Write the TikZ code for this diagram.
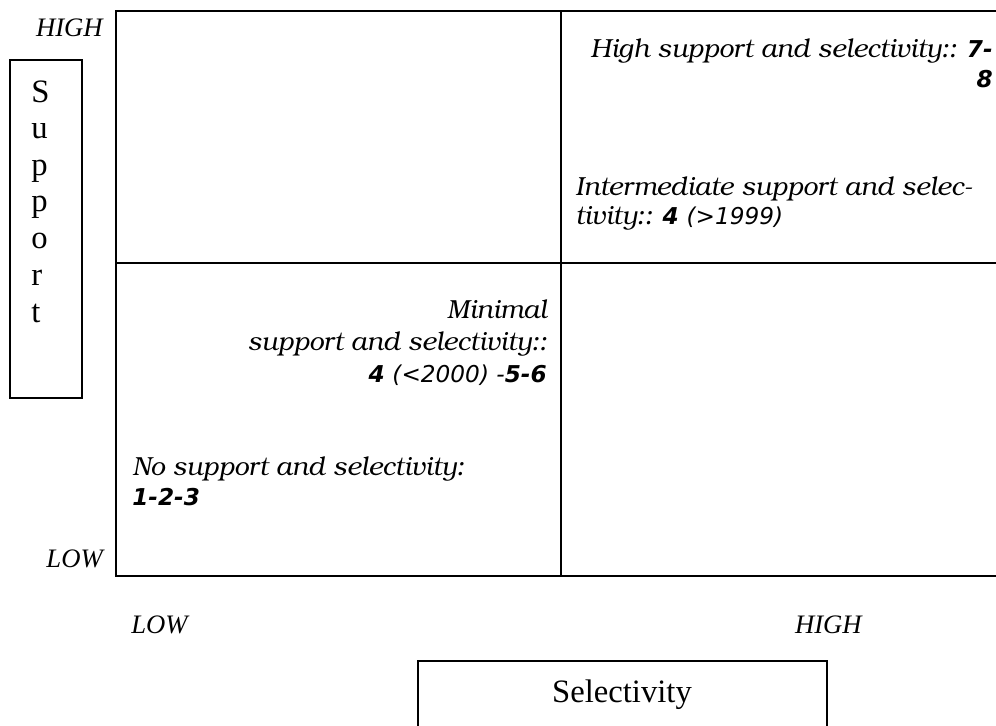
\documentclass[tikz,border=0pt]{standalone}
\usepackage{fontspec}
\setmainfont{Liberation Serif}
\newfontfamily\bkfont{TeX Gyre Bonum}
\newfontfamily\vdfont{DejaVu Sans}
\newcommand{\nbold}[1]{{\vdfont\bfseries\itshape\fontsize{17.4}{21}\selectfont #1}}
\newcommand{\nital}[1]{{\vdfont\itshape\fontsize{17.4}{21}\selectfont #1}}
\tikzset{
  gridline/.style={line width=2pt},
  boxline/.style={line width=1.2pt},
  qt/.style={inner sep=0pt, font=\bkfont\itshape\fontsize{19.6}{23}\selectfont},
  axislbl/.style={inner sep=0pt, font=\itshape\fontsize{20}{24}\selectfont},
  bigl/.style={inner sep=0pt, font=\fontsize{24.5}{28}\selectfont}
}
\begin{document}
\begin{tikzpicture}[x=0.75pt,y=-0.75pt]
\useasboundingbox (0,0) rectangle (996,725);
\clip (0,0) rectangle (996,725);
% grid
\draw[gridline] (996,11) -- (116,11) -- (116,576) -- (996,576);
\draw[gridline] (561,11) -- (561,576);
\draw[gridline] (116,263) -- (996,263);
% support box
\draw[boxline] (10,60) rectangle (82,398);
\foreach \l/\yy [count=\i] in {S/102,u/138,p/175,p/211,o/248,r/285,t/322}
  \node[bigl, anchor=base west] (s\i) at (31,\yy) {\l};
% selectivity box
\draw[boxline] (418,661) rectangle (827,760);
\node[bigl, anchor=base] (sel) at (622,702) {Selectivity};
% axis labels
\node[axislbl, anchor=base east] (yhigh) at (103,36) {HIGH};
\node[axislbl, anchor=base east] (ylow) at (103,567) {LOW};
\node[axislbl, anchor=base west] (xlow) at (131,633) {LOW};
\node[axislbl, anchor=base east] (xhigh) at (862,633) {HIGH};
% quadrant texts
\node[qt, anchor=base east] (hs1) at (993,57) {High support and selectivity:: \nbold{7-}};
\node[qt, anchor=base east] (hs2) at (993,87) {\nbold{8}};
\node[qt, anchor=base west] (im1) at (575,195) {Intermediate support and selec-};
\node[qt, anchor=base west] (im2) at (575,224) {tivity:: \nbold{4} \nital{(>1999)}};
\node[qt, anchor=base east] (mn1) at (547,318) {Minimal};
\node[qt, anchor=base east] (mn2) at (547,350) {support and selectivity::};
\node[qt, anchor=base east] (mn3) at (547,382) {\nbold{4} \nital{(<2000) -}\nbold{5-6}};
\node[qt, anchor=base west] (ns1) at (132,475) {No support and selectivity:};
\node[qt, anchor=base west] (ns2) at (132,505) {\nbold{1-2-3}};
\end{tikzpicture}
\end{document}
